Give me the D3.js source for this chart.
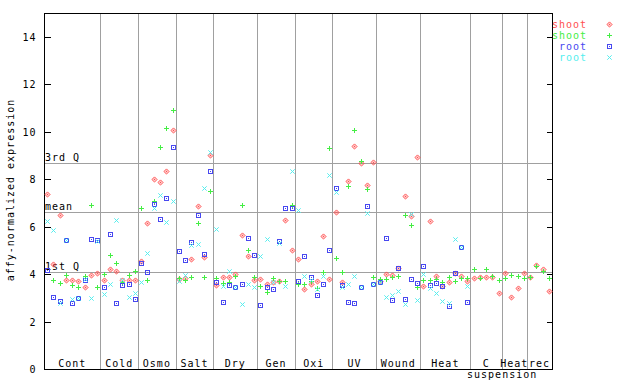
<!DOCTYPE html>
<html>
<head>
<meta charset="utf-8">
<script src="https://cdn.jsdelivr.net/npm/d3@7"></script>
<style>
  html, body { margin: 0; padding: 0; background: #fff; }
  svg { display: block; }
  text { font-family: "DejaVu Sans Mono", monospace; font-size: 10px; letter-spacing: 1px; }
</style>
</head>
<body>
<svg id="chart" width="640" height="384"></svg>
<script>
// ---- data ----
const groupLabels = ["Cont", "Cold", "Osmo", "Salt", "Dry", "Gen", "Oxi", "UV", "Wound", "Heat", "C\nsuspension", "Heat", "rec"];
const groupSizes  = [9, 6, 6, 6, 7, 6, 6, 7, 7, 8, 5, 4, 4];

const shootRed = [
  7.38, 4.41, 6.50, 3.75, 3.75, 3.70, 3.46, 3.95, 4.03,
  3.75, 4.22, 4.13, 3.75, 3.77, 3.75,
  4.57, 6.16, 8.02, 7.89, 8.35, 10.08,
  3.78, 3.83, 4.64, 6.88, 4.73, 9.00,
  3.54, 3.88, 3.88, 3.99, 5.65, 4.77, 3.75,
  3.80, 3.59, 3.67, 3.71, 6.29, 5.02,
  4.64, 3.38, 3.59, 3.71, 5.61, 3.80,
  6.62, 3.67, 7.93, 9.41, 8.69, 7.76, 8.73,
  3.72, 4.00, 3.95, 4.26, 7.30, 6.46, 8.94,
  3.50, 6.24, 3.92, 3.50, 3.67, 4.05, 3.92, 3.71,
  3.84, 3.88, 3.88, 3.88, 3.20,
  4.05, 3.04, 3.42, 4.05,
  3.88, 4.39, 4.22, 3.29
];
const shootGreen = [
  null, 3.75, 3.63, 3.98, 3.54, 3.46, 3.93, 6.92, 3.46,
  4.00, 4.81, 4.47, 3.67, 3.98, 4.13,
  6.79, 3.76, 7.08, 9.37, 10.17, 10.93,
  3.84, 3.75, 3.88, 6.16, 3.88, 7.51,
  3.84, 3.63, 3.67, 3.92, 6.92, 5.02, 3.88,
  3.50, 3.25, 3.84, 3.70, 3.71, 6.92,
  3.59, 3.59, 3.71, 3.40, 4.09, 9.32,
  4.68, 4.09, 7.72, 10.08, 8.78, 7.60, 3.88,
  3.78, 3.78, 3.88, 3.92, 6.50, 6.08, 3.46,
  3.77, 3.77, 3.80, 3.68, 3.88, 3.71, 3.84, 3.84,
  4.22, 3.84, 4.22, 3.92, 3.75,
  3.84, 3.97, 3.92, 3.84,
  3.88, 4.35, 4.13, 3.84
];
const rootBlue = [
  4.18, 3.04, 2.87, 5.44, 2.78, 3.00, 3.75, 5.49, 5.44,
  3.46, 5.70, 2.78, 3.54, 3.59, 2.95,
  4.47, 4.09, 6.96, 6.33, 7.21, 9.37,
  4.98, 4.60, 5.36, 6.50, 4.85, 8.35,
  3.67, 2.83, 3.54, 3.46, 3.59, 5.53, 4.81,
  2.70, 3.46, 3.38, 5.40, 6.79, 6.79,
  3.71, 4.77, 3.88, 3.12, 3.59, 5.02,
  7.64, 3.54, 2.83, 2.78, 3.44, 6.88, 3.59,
  3.67, 5.53, 2.91, 4.26, 2.95, 3.80, 3.63,
  4.35, 3.54, 3.63, 3.50, 2.66, 4.05, 5.16, 2.83,
  null, null, null, null, null,
  null, null, null, null,
  null, null, null, null
];
const rootCyan = [
  6.25, 5.87, 2.78, 5.44, 2.95, 3.00, 3.80, 3.00, 5.38,
  3.16, 3.59, 6.29, 3.75, 3.04, 3.20,
  3.67, 4.89, 6.77, 7.34, 6.20, 7.09,
  3.71, 3.97, 5.23, 5.28, 7.64, 9.16,
  5.91, 3.49, 4.14, 3.46, 2.74, 3.59, 3.46,
  4.77, 5.49, 3.67, 5.32, 3.50, 8.35,
  6.71, 3.90, 3.75, 3.38, 3.92, 8.19,
  7.45, 3.46, 3.59, 3.92, 3.44, 6.58, 3.59,
  3.67, 3.04, 3.10, 3.29, 2.74, 6.54, 2.91,
  4.01, 3.42, 3.20, 2.87, 2.80, 5.49, 5.16, 3.50,
  null, null, null, null, null,
  null, null, null, null,
  null, null, null, null
];
const refLines  = [8.69, 6.62, 4.09];
const refLabels = ["3rd Q", "mean", "1st Q"];
const yTicks = [0, 2, 4, 6, 8, 10, 12, 14];
const seriesNames  = ["shoot", "shoot", "root", "root"];

// ---- layout ----
const svg = d3.select("#chart");
const L = 44, R = 552, T = 13, B = 369;
const nSamples = d3.sum(groupSizes);
const x = d3.scaleLinear().domain([0, nSamples]).range([L, R]);
const y = d3.scaleLinear().domain([0, 15]).range([B, T]);
const colors = ["#ff5050", "#44ee44", "#4848f0", "#55eeee"];
const symbols = ["diamond", "plus", "square", "cross"];
const px = v => Math.round(v) + 0.5;

// reference (quartile) lines
svg.append("g").selectAll("line").data(refLines).join("line")
  .attr("x1", L).attr("x2", R)
  .attr("y1", d => px(y(d))).attr("y2", d => px(y(d)))
  .attr("stroke", "#a0a0a0").attr("stroke-width", 1).attr("shape-rendering", "crispEdges");

// group separators
const bounds = d3.cumsum(groupSizes).slice(0, -1);
svg.append("g").selectAll("line").data(bounds).join("line")
  .attr("x1", d => px(x(d))).attr("x2", d => px(x(d)))
  .attr("y1", T).attr("y2", B)
  .attr("stroke", "#a0a0a0").attr("stroke-width", 1).attr("shape-rendering", "crispEdges");

// reference labels
svg.append("g").selectAll("text").data(refLines).join("text")
  .attr("x", L + 1).attr("y", d => y(d) - 1.5)
  .attr("fill", "#000")
  .text((d, i) => refLabels[i]);

// axes
const yAxisL = d3.axisLeft(y).tickValues(yTicks).tickSizeInner(-6).tickSizeOuter(0).tickPadding(8).tickFormat(d3.format("d"));
const gL = svg.append("g").attr("transform", `translate(${L + 0.5},0)`).call(yAxisL);
gL.select(".domain").remove();
gL.selectAll(".tick line").attr("stroke", "#000").attr("shape-rendering", "crispEdges");
gL.selectAll(".tick text").attr("font-family", "DejaVu Sans Mono").attr("font-size", 10).attr("fill", "#000");
gL.selectAll(".tick").attr("transform", d => `translate(0,${px(y(d))})`);

const yAxisR = d3.axisRight(y).tickValues(yTicks).tickSizeInner(-6).tickSizeOuter(0).tickFormat("");
const gR = svg.append("g").attr("transform", `translate(${R + 0.5},0)`).call(yAxisR);
gR.select(".domain").remove();
gR.selectAll(".tick line").attr("stroke", "#000").attr("shape-rendering", "crispEdges");
gR.selectAll(".tick").attr("transform", d => `translate(0,${px(y(d))})`);

// frame
svg.append("rect").attr("x", L + 0.5).attr("y", T + 0.5).attr("width", R - L).attr("height", B - T)
  .attr("fill", "none").attr("stroke", "#000").attr("stroke-width", 1).attr("shape-rendering", "crispEdges");

// group labels
const starts = [0, ...bounds];
const glab = svg.append("g");
groupLabels.forEach((lab, i) => {
  const cx = x(starts[i] + groupSizes[i] / 2);
  const lines = lab.split("\n");
  glab.append("text").attr("x", cx).attr("y", 367).attr("text-anchor", "middle").text(lines[0]);
  if (lines[1]) glab.append("text").attr("x", cx + 16).attr("y", 378).attr("text-anchor", "middle").text(lines[1]);
});

// y-axis title
svg.append("text").attr("transform", "translate(14,190) rotate(-90)")
  .attr("text-anchor", "middle").text("affy-normalized expression");

// marker drawing (5px pixel-style symbols)
function drawMarker(g, type, color, cx, cy) {
  if (type === "diamond") {
    g.append("path").attr("d", `M${cx},${cy - 2.6}L${cx + 2.6},${cy}L${cx},${cy + 2.6}L${cx - 2.6},${cy}Z`)
      .attr("fill", color).attr("fill-opacity", 0.3).attr("stroke", color).attr("stroke-width", 0.9);
    g.append("rect").attr("x", cx - 0.5).attr("y", cy - 0.5).attr("width", 1).attr("height", 1).attr("fill", color);
  } else if (type === "plus") {
    g.append("path").attr("d", `M${cx - 2.5},${cy}H${cx + 2.5}M${cx},${cy - 2.5}V${cy + 2.5}`)
      .attr("stroke", color).attr("stroke-width", 1).attr("fill", "none").attr("shape-rendering", "crispEdges");
  } else if (type === "square") {
    g.append("rect").attr("x", cx - 2).attr("y", cy - 2).attr("width", 4).attr("height", 4)
      .attr("fill", "none").attr("stroke", color).attr("stroke-width", 1).attr("shape-rendering", "crispEdges");
    g.append("rect").attr("x", cx - 0.5).attr("y", cy - 0.5).attr("width", 1).attr("height", 1).attr("fill", color);
  } else if (type === "cross") {
    g.append("path").attr("d", `M${cx - 2.2},${cy - 2.2}L${cx + 2.2},${cy + 2.2}M${cx - 2.2},${cy + 2.2}L${cx + 2.2},${cy - 2.2}`)
      .attr("stroke", color).attr("stroke-width", 1).attr("fill", "none");
  }
}

// points
const allSeries = [shootRed, shootGreen, rootBlue, rootCyan];
allSeries.forEach((vals, s) => {
  const g = svg.append("g");
  vals.forEach((v, i) => {
    if (v == null) return;
    drawMarker(g, symbols[s], colors[s], Math.round(x(i + 0.5)) + 0.5, Math.round(y(v)) + 0.5);
  });
});

// legend
const leg = svg.append("g");
seriesNames.forEach((name, s) => {
  const cy = 24 + s * 11;
  leg.append("text").attr("x", 587).attr("y", cy + 3.5).attr("text-anchor", "end")
    .attr("fill", colors[s]).text(name);
  drawMarker(leg, symbols[s], colors[s], 609.5, cy + 0.5);
});
</script>
</body>
</html>
